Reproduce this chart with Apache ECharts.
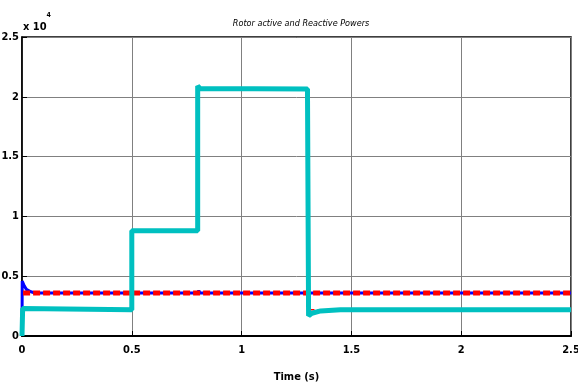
<!DOCTYPE html>
<html>
<head>
<meta charset="utf-8">
<script src="https://cdn.jsdelivr.net/npm/echarts@6/dist/echarts.min.js"></script>
<style>
  html, body { margin: 0; padding: 0; background: #fff; }
  #main { width: 578px; height: 387px; }
</style>
</head>
<body>
<div id="main"></div>
<script>
// values in W (plotted as x 10^4)
var activeMeasured = [
  [0, 0], [0.003, 2300], [0.5, 2200], [0.5, 8800], [0.8, 8800], [0.8, 20900], [0.81, 20700],
  [1.3, 20650], [1.305, 1700], [1.32, 1900], [1.36, 2100], [1.45, 2200], [2.5, 2200]
];
var activeRef = [
  [0, 2200], [0.5, 2200], [0.5, 8800], [0.8, 8800], [0.8, 20700], [1.3, 20700],
  [1.3, 2200], [2.5, 2200]
];
var reactiveMeasured = [
  [0, 0], [0.001, 4600], [0.01, 4200], [0.02, 3900], [0.04, 3700], [0.06, 3600],
  [0.8, 3600], [0.805, 3800], [0.81, 3600], [2.5, 3600]
];
var reactiveRef = [[0.005, 3600], [2.5, 3600]];
var xTicks = [0, 0.5, 1, 1.5, 2, 2.5];

var FONT = "'Liberation Sans Narrow', 'DejaVu Sans Condensed', 'Liberation Sans', sans-serif";
var chart = echarts.init(document.getElementById('main'));
var labelFont = {
  fontFamily: FONT,
  fontWeight: 'bold',
  fontSize: 11,
  color: '#000'
};

var option = {
  backgroundColor: '#fff',
  animation: false,
  title: {
    text: 'Rotor active and Reactive Powers',
    left: 296,
    textAlign: 'center',
    top: 14,
    textStyle: {
      fontFamily: FONT,
      fontStyle: 'italic',
      fontWeight: 'normal',
      fontSize: 9,
      color: '#000'
    }
  },
  grid: {
    left: 22, right: 7, top: 37, bottom: 51,
    outerBoundsMode: 'none',
    containLabel: false,
    show: true,
    borderColor: '#000',
    borderWidth: 1.5
  },
  graphic: [{
    type: 'text',
    left: 23,
    top: 12,
    style: {
      text: '{a|x 10}{b|4}',
      rich: {
        a: { fontFamily: FONT, fontWeight: 'bold', fontSize: 11, fill: '#000', padding: [10, 0, 0, 0] },
        b: { fontFamily: FONT, fontWeight: 'bold', fontSize: 7, fill: '#000', verticalAlign: 'top' }
      }
    }
  }],
  xAxis: {
    type: 'value',
    min: 0, max: 2.5, interval: 0.5,
    name: 'Time (s)',
    nameLocation: 'middle',
    nameGap: 36,
    nameTextStyle: labelFont,
    axisLine: { lineStyle: { color: '#000', width: 2 } },
    axisTick: { inside: true, length: 5, lineStyle: { color: '#000' } },
    axisLabel: Object.assign({ margin: 9 }, labelFont),
    splitLine: { lineStyle: { color: '#808080', width: 1 } }
  },
  yAxis: {
    type: 'value',
    min: 0, max: 25000, interval: 5000,
    axisLine: { lineStyle: { color: '#000', width: 1.5 } },
    axisTick: { inside: true, length: 5, lineStyle: { color: '#000' } },
    axisLabel: Object.assign({
      margin: 3,
      formatter: function (v) { return String(v / 10000); }
    }, labelFont),
    splitLine: { lineStyle: { color: '#808080', width: 1 } }
  },
  series: [
    {
      name: 'Q measured', type: 'line', data: reactiveMeasured, showSymbol: false,
      lineStyle: { color: '#0000ff', width: 3 }, z: 2
    },
    {
      name: 'Q reference', type: 'line', data: reactiveRef, showSymbol: false,
      lineStyle: { color: '#ff0000', width: 5, type: [7, 3] }, z: 3
    },
    {
      name: 'P reference', type: 'line', data: activeRef, showSymbol: false,
      lineStyle: { color: '#ff0000', width: 1.5, type: [6, 3] }, z: 4
    },
    {
      name: 'P measured', type: 'line', data: activeMeasured, showSymbol: false,
      lineStyle: { color: '#00c0c0', width: 5 }, z: 5
    }
  ]
};
chart.setOption(option);
</script>
</body>
</html>
